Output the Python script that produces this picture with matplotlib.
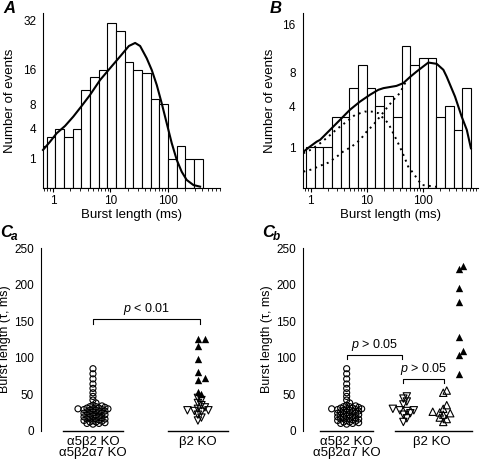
import numpy as np
import matplotlib
matplotlib.use('Agg')
import matplotlib.pyplot as plt
from matplotlib.ticker import FixedLocator, FixedFormatter, LogLocator, NullLocator, NullFormatter

plt.rcParams['font.family'] = ['Liberation Sans', 'DejaVu Sans']
plt.rcParams['mathtext.fontset'] = 'custom'
plt.rcParams['mathtext.it'] = 'Liberation Sans:italic'
plt.rcParams['mathtext.rm'] = 'Liberation Sans'
plt.rcParams['axes.linewidth'] = 0.8

# ---- panel A : burst length histogram (log bins, sqrt y) ----
a_edges = np.logspace(-0.261, 2.608, 20)
a_counts = [2, 3, 4, 3, 4, 11, 14, 16, 31, 28, 18, 16, 15, 9, 8, 1, 2, 1, 1]
a_fit_x = [0.67, 0.89, 1.16, 1.62, 2.26, 3.16, 4.42, 6.6, 9.9, 14.7, 21, 27, 33, 43,
           52.6, 64.4, 78.5, 96, 117.5, 143.6, 175, 214, 280, 366]
a_fit_y = [1.67, 2.47, 3.44, 4.41, 5.84, 7.7, 9.9, 13.3, 16.4, 19.7, 23.0, 24.0, 23.0, 19.2,
           15.9, 12.1, 8.2, 4.8, 2.3, 0.91, 0.31, 0.078, 0.012, 0.003]

# ---- panel B ----
b_edges = np.logspace(-0.083, 2.862, 20)
b_counts = [1, 1, 1, 3, 3, 6, 9, 6, 4, 5, 3, 12, 9, 10, 10, 3, 4, 2, 6]
b_fit_x = [0.72, 0.97, 1.28, 1.47, 2.21, 3.34, 5.0, 7.6, 11.4, 16.1, 19.9, 34, 45, 59, 78,
           126, 178, 234, 268, 378, 497, 614, 727]
b_fit_y = [0.77, 1.03, 1.29, 1.39, 2.02, 2.78, 3.65, 4.46, 5.18, 5.75, 5.95, 6.22, 6.56, 7.33,
           8.09, 9.38, 9.19, 8.33, 7.4, 4.99, 3.05, 2.02, 0.95]
b_mid_x = [0.74, 1.04, 1.47, 2.06, 2.91, 4.4, 6.2, 9.3, 12.3, 16.1, 24.3, 32, 39, 48, 55, 68, 96, 204]
b_mid_y = [0.73, 0.90, 1.20, 1.58, 2.07, 2.64, 3.2, 3.49, 3.49, 3.35, 2.51, 1.58, 1.03, 0.54,
           0.28, 0.134, 0.0066, 0.0006]
b_slow_x = [0.74, 1.04, 1.47, 2.06, 2.91, 3.8, 5.4, 7.6, 10, 13.1, 17.3, 22.7, 30, 39, 52]
b_slow_y = [0.164, 0.21, 0.30, 0.39, 0.59, 0.80, 1.03, 1.39, 1.91, 2.38, 3.05, 3.81, 4.64, 5.37, 6.98]

# ---- panel C : burst time constants (ms) ----
wt_tau = [85, 78, 71, 64, 58, 52, 47, 42, 38,
          35, 34, 33, 33, 32, 31, 31, 30, 30, 30, 29, 29, 28, 28, 27, 26, 26, 25, 24, 24,
          23, 22, 22, 21, 20, 20, 19, 18, 18, 17, 16, 16, 15, 14, 14, 13, 12, 12, 11, 10, 10, 9]
ca_b2_slow = [126, 126, 116, 98, 80, 72, 70, 53, 50]
ca_b2_fast = [45, 42, 38, 35, 32, 30, 28, 28, 27, 26, 22, 18, 14]
cb_down = [47, 44, 40, 36, 30, 28, 28, 27, 24, 22, 17, 12]
cb_up_open = [55, 52, 35, 30, 26, 25, 24, 22, 18, 16, 12]
cb_up_fill = [226, 222, 196, 177, 129, 109, 104, 78]

fig = plt.figure(figsize=(4.8, 4.61), dpi=100)


def sqrt_fwd(v):
    return np.sqrt(np.clip(v, 0, None))


def sqrt_inv(v):
    return np.square(v)


def hist_panel(ax, edges, counts, yticks, xlim, ylim):
    ax.bar(edges[:-1], counts, width=np.diff(edges), align='edge',
           facecolor='white', edgecolor='black', linewidth=0.8)
    ax.set_xscale('log')
    ax.set_yscale('function', functions=(sqrt_fwd, sqrt_inv))
    ax.set_xlim(*xlim)
    ax.set_ylim(*ylim)
    ax.xaxis.set_major_locator(FixedLocator([1, 10, 100]))
    ax.xaxis.set_major_formatter(FixedFormatter(['1', '10', '100']))
    ax.xaxis.set_minor_locator(LogLocator(base=10, subs=np.arange(2, 10)))
    ax.xaxis.set_minor_formatter(NullFormatter())
    ax.yaxis.set_major_locator(FixedLocator(yticks))
    ax.yaxis.set_major_formatter(FixedFormatter([str(t) for t in yticks]))
    ax.yaxis.set_minor_locator(NullLocator())
    for s in ['top', 'right']:
        ax.spines[s].set_visible(False)
    ax.tick_params(axis='x', which='major', length=3, width=0.8, pad=2, labelsize=8.5)
    ax.tick_params(axis='x', which='minor', length=2, width=0.6)
    ax.tick_params(axis='y', length=0, pad=5, labelsize=8.5)
    ax.set_xlabel('Burst length (ms)', fontsize=9.5, labelpad=1)
    ax.set_ylabel('Number of events', fontsize=9.5, labelpad=5)


axA = fig.add_axes([0.0896, 0.5916, 0.369, 0.3796])
hist_panel(axA, a_edges, a_counts, [1, 4, 8, 16, 32], (0.67, 818), (0, 34.8))
axA.plot(a_fit_x, a_fit_y, color='black', lw=1.5, clip_on=False)

axB = fig.add_axes([0.6306, 0.5916, 0.3652, 0.3809])
hist_panel(axB, b_edges, b_counts, [1, 4, 8, 16], (0.719, 972), (0, 18.3))
axB.plot(b_mid_x, b_mid_y, color='black', lw=1.4, ls=(0, (1, 2.2)))
axB.plot(b_slow_x, b_slow_y, color='black', lw=1.4, ls=(0, (1, 2.2)))
axB.plot(b_fit_x, b_fit_y, color='black', lw=1.5)


def swarm(vals, ppx, ppy, step=3.0, min_d=3.3):
    # simple beeswarm in pixel space, returns x offsets in data units
    order = np.argsort(vals)
    placed = []
    offs = np.zeros(len(vals))
    for i in order:
        yp = vals[i] * ppy
        for k in range(0, 30):
            for c in ([0] if k == 0 else [k, -k]):
                xp = c * step
                if all((xp - px) ** 2 + (yp - py) ** 2 >= min_d ** 2 for px, py in placed):
                    break
            else:
                continue
            break
        placed.append((xp, yp))
        offs[i] = xp / ppx
    return offs


PPX = 105.0
PPY = 182.4 / 250.0


def c_panel(ax, xlim):
    ax.set_xlim(*xlim)
    ax.set_ylim(0, 250)
    ax.set_yticks([0, 50, 100, 150, 200, 250])
    for s in ['top', 'right', 'bottom']:
        ax.spines[s].set_visible(False)
    ax.set_xticks([])
    ax.tick_params(axis='y', length=0, pad=5, labelsize=8.5)
    ax.set_ylabel('Burst length (τ, ms)', fontsize=9, labelpad=2)


def bracket(ax, x1, x2, y, drop, label):
    ax.plot([x1, x1, x2, x2], [y - drop, y, y, y - drop], color='black', lw=0.8)
    ax.text((x1 + x2) / 2, y + 3, label, ha='center', va='bottom', fontsize=9)


# Ca
axCa = fig.add_axes([0.0848, 0.0657, 0.415, 0.3957])
c_panel(axCa, (0.502, 2.40))
wt = np.array(wt_tau, float)
axCa.scatter(1 + swarm(wt, PPX, PPY), wt, s=19, marker='o', facecolors='none',
             edgecolors='black', linewidths=0.8, clip_on=False)
b2 = np.array(ca_b2_slow + ca_b2_fast, float)
b2_off = swarm(b2, PPX, PPY, step=3.5, min_d=4.0)
n_s = len(ca_b2_slow)
axCa.scatter(2 + b2_off[:n_s], b2[:n_s], s=28, marker='^', color='black', linewidths=0)
axCa.scatter(2 + b2_off[n_s:], b2[n_s:], s=28, marker='v', facecolors='none',
             edgecolors='black', linewidths=0.8, clip_on=False)
axCa.plot([0.714, 1.286], [0, 0], color='black', lw=1, clip_on=False)
axCa.plot([1.714, 2.286], [0, 0], color='black', lw=1, clip_on=False)
axCa.text(1, -15, 'α5β2 KO', ha='center', va='center', fontsize=9.5)
axCa.text(1, -31, 'α5β2α7 KO', ha='center', va='center', fontsize=9.5)
axCa.text(2, -15, 'β2 KO', ha='center', va='center', fontsize=9.5)
bracket(axCa, 1, 2.02, 153, 7, '$p$ < 0.01')

# Cb
axCb = fig.add_axes([0.6306, 0.0657, 0.3652, 0.3957])
c_panel(axCb, (0.581, 2.251))
axCb.scatter(1 + swarm(wt, PPX, PPY), wt, s=19, marker='o', facecolors='none',
             edgecolors='black', linewidths=0.8, clip_on=False)
dn = np.array(cb_down, float)
axCb.scatter(1.54 + swarm(dn, PPX, PPY, step=3.5, min_d=4.0), dn, s=28, marker='v',
             facecolors='none', edgecolors='black', linewidths=0.8, clip_on=False)
uo = np.array(cb_up_open, float)
axCb.scatter(1.92 + swarm(uo, PPX, PPY, step=3.5, min_d=4.0), uo, s=28, marker='^',
             facecolors='none', edgecolors='black', linewidths=0.8, clip_on=False)
uf = np.array(cb_up_fill, float)
axCb.scatter(2.07 + swarm(uf, PPX, PPY, step=4.0, min_d=4.5), uf, s=28, marker='^',
             color='black', linewidths=0, clip_on=False)
axCb.plot([0.746, 1.254], [0, 0], color='black', lw=1, clip_on=False)
axCb.plot([1.459, 2.19], [0, 0], color='black', lw=1, clip_on=False)
axCb.text(1, -15, 'α5β2 KO', ha='center', va='center', fontsize=9.5)
axCb.text(1, -31, 'α5β2α7 KO', ha='center', va='center', fontsize=9.5)
axCb.text(1.81, -15, 'β2 KO', ha='center', va='center', fontsize=9.5)
bracket(axCb, 1, 1.525, 103.5, 5, '$p$ > 0.05')
bracket(axCb, 1.54, 1.93, 71, 5, '$p$ > 0.05')

# panel letters
lab = dict(fontsize=12, style='italic', fontweight='bold', va='top')
fig.text(0.006, 0.998, 'A', **lab)
fig.text(0.562, 0.998, 'B', **lab)
fig.text(0.0, 0.512, 'C', **lab)
fig.text(0.022, 0.500, 'a', fontsize=8.5, style='italic', fontweight='bold', va='top')
fig.text(0.546, 0.512, 'C', **lab)
fig.text(0.568, 0.500, 'b', fontsize=8.5, style='italic', fontweight='bold', va='top')

fig.savefig('out.png', dpi=100)
